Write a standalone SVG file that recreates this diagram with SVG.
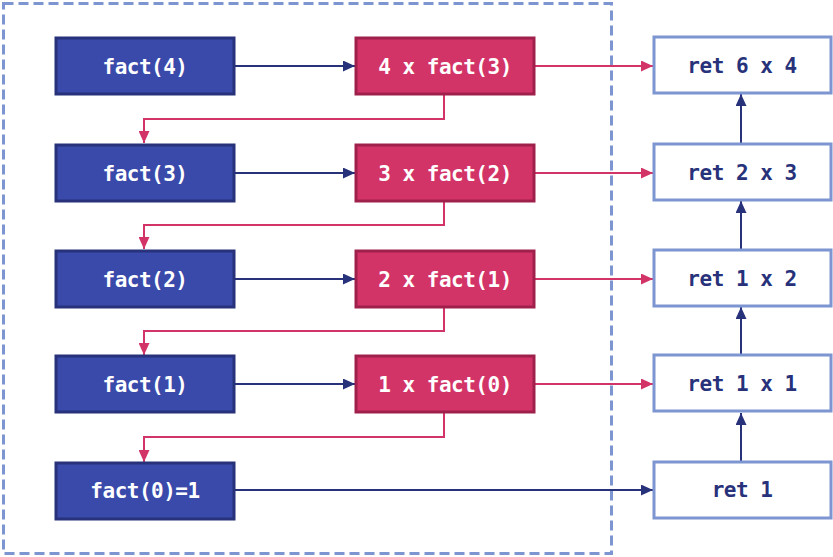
<svg xmlns="http://www.w3.org/2000/svg" width="833" height="557" viewBox="0 0 833 557">
<style>
.call{fill:#394aab;stroke:#27327a;stroke-width:3}
.mul{fill:#d33468;stroke:#a0204c;stroke-width:3}
.ret{fill:#ffffff;stroke:#7d95d0;stroke-width:3}
.t{font-family:"DejaVu Sans Mono","Liberation Mono",monospace;font-weight:bold;font-size:21px;letter-spacing:-0.5px;text-anchor:middle;dominant-baseline:central}
.tw{fill:#ffffff}
.tb{fill:#27327a}
.cb{fill:none;stroke:#27327a;stroke-width:2}
.cp{fill:none;stroke:#d33468;stroke-width:2}
</style>
<defs>
<marker id="ab" markerWidth="12" markerHeight="11" refX="12" refY="5.5" orient="auto" markerUnits="userSpaceOnUse"><path d="M0,0 L12,5.5 L0,11 Z" fill="#27327a"/></marker>
<marker id="ap" markerWidth="12" markerHeight="11" refX="12" refY="5.5" orient="auto" markerUnits="userSpaceOnUse"><path d="M0,0 L12,5.5 L0,11 Z" fill="#d33468"/></marker>
</defs>
<rect x="3.5" y="3.5" width="608" height="550" fill="none" stroke="#7d95d0" stroke-width="3" stroke-dasharray="10 5"/>
<g id="connectors">
<path class="cb" d="M234,66 H355" marker-end="url(#ab)"/>
<path class="cb" d="M234,173 H355" marker-end="url(#ab)"/>
<path class="cb" d="M234,279 H355" marker-end="url(#ab)"/>
<path class="cb" d="M234,384 H355" marker-end="url(#ab)"/>
<path class="cb" d="M234,490 H653" marker-end="url(#ab)"/>
<path class="cp" d="M534,66 H653" marker-end="url(#ap)"/>
<path class="cp" d="M534,173 H653" marker-end="url(#ap)"/>
<path class="cp" d="M534,279 H653" marker-end="url(#ap)"/>
<path class="cp" d="M534,384 H653" marker-end="url(#ap)"/>
<path class="cp" d="M444,95 V119 H144 V143" marker-end="url(#ap)"/>
<path class="cp" d="M444,201 V225 H144 V249" marker-end="url(#ap)"/>
<path class="cp" d="M444,307 V331 H144 V355" marker-end="url(#ap)"/>
<path class="cp" d="M444,413 V437 H144 V462" marker-end="url(#ap)"/>
<path class="cb" d="M741,462 V413" marker-end="url(#ab)"/>
<path class="cb" d="M741,355 V307" marker-end="url(#ab)"/>
<path class="cb" d="M741,249 V201" marker-end="url(#ab)"/>
<path class="cb" d="M741,143 V94" marker-end="url(#ab)"/>
</g>
<g id="fact4"><rect class="call" x="56" y="38" width="178" height="56"/><text class="t tw" x="145" y="67">fact(4)</text></g>
<g id="fact3"><rect class="call" x="56" y="145" width="178" height="56"/><text class="t tw" x="145" y="174">fact(3)</text></g>
<g id="fact2"><rect class="call" x="56" y="251" width="178" height="56"/><text class="t tw" x="145" y="280">fact(2)</text></g>
<g id="fact1"><rect class="call" x="56" y="356" width="178" height="56"/><text class="t tw" x="145" y="385">fact(1)</text></g>
<g id="fact0"><rect class="call" x="56" y="463" width="178" height="56"/><text class="t tw" x="145" y="491">fact(0)=1</text></g>
<g id="mul4"><rect class="mul" x="356" y="38" width="178" height="56"/><text class="t tw" x="445" y="67">4 x fact(3)</text></g>
<g id="mul3"><rect class="mul" x="356" y="145" width="178" height="56"/><text class="t tw" x="445" y="174">3 x fact(2)</text></g>
<g id="mul2"><rect class="mul" x="356" y="251" width="178" height="56"/><text class="t tw" x="445" y="280">2 x fact(1)</text></g>
<g id="mul1"><rect class="mul" x="356" y="356" width="178" height="56"/><text class="t tw" x="445" y="385">1 x fact(0)</text></g>
<g id="ret64"><rect class="ret" x="654" y="37" width="177" height="56"/><text class="t tb" x="742" y="66">ret 6 x 4</text></g>
<g id="ret23"><rect class="ret" x="654" y="144" width="177" height="56"/><text class="t tb" x="742" y="173">ret 2 x 3</text></g>
<g id="ret12"><rect class="ret" x="654" y="250" width="177" height="56"/><text class="t tb" x="742" y="279">ret 1 x 2</text></g>
<g id="ret11"><rect class="ret" x="654" y="355" width="177" height="56"/><text class="t tb" x="742" y="384">ret 1 x 1</text></g>
<g id="ret1"><rect class="ret" x="654" y="462" width="177" height="56"/><text class="t tb" x="742" y="490">ret 1</text></g>
</svg>
